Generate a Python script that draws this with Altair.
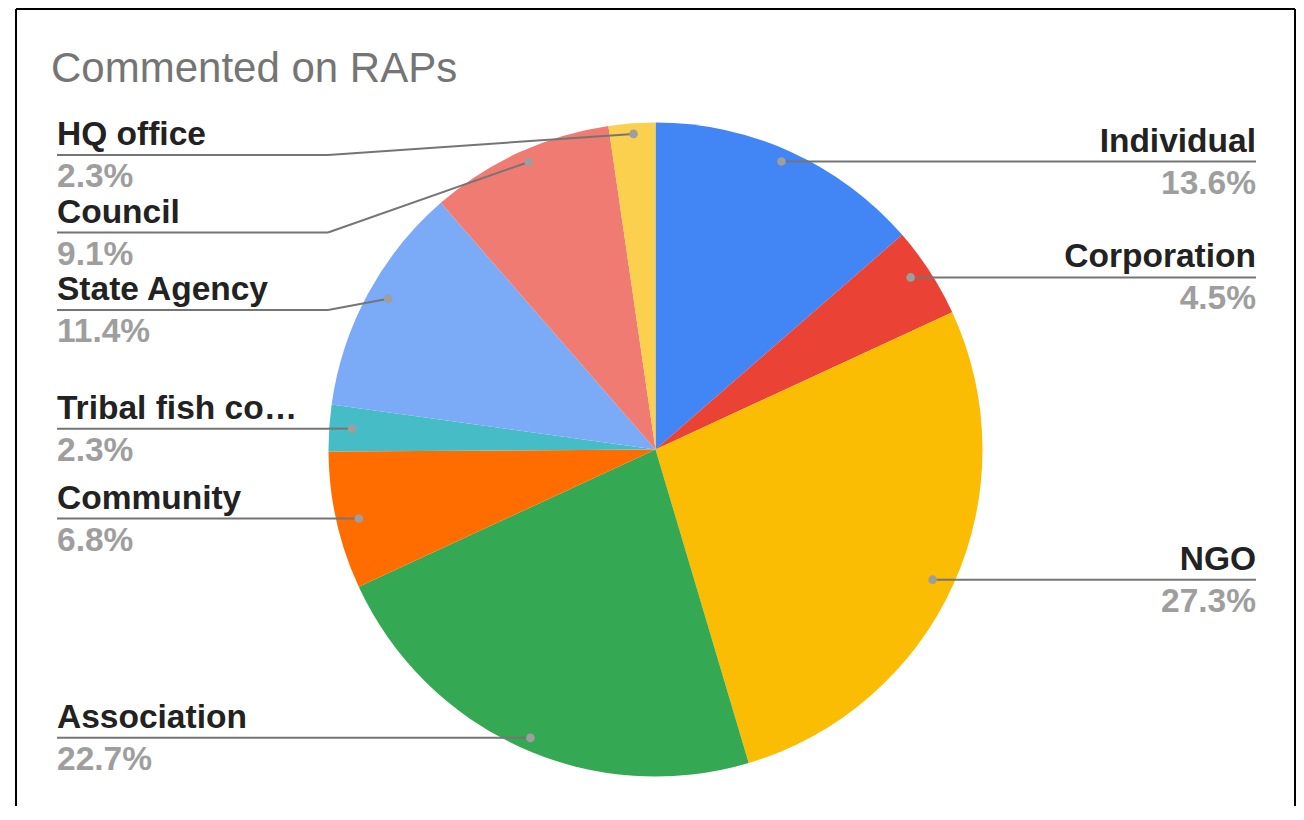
import altair as alt
import pandas as pd

# ---- data ----
categories = ["Individual", "Corporation", "NGO", "Association", "Community",
              "Tribal fish co…", "State Agency", "Council", "HQ office"]
shares = [13.6, 4.5, 27.3, 22.7, 6.8, 2.3, 11.4, 9.1, 2.3]
colors = ["#4285F4", "#EA4335", "#FBBC04", "#34A853", "#FF6D01",
          "#46BDC6", "#7BAAF7", "#F07B72", "#FCD04F"]
title_text = "Commented on RAPs"

df = pd.DataFrame({"category": categories, "value": shares,
                   "idx": list(range(len(categories)))})

# ---- layout constants (view coordinates) ----
W, H = 1281, 713
PAD = {"left": 7, "top": 85, "right": 0, "bottom": 0}
CX, CY = W / 2, H / 2
R = 327
RX, RY = 304, 316.4          # anchor ellipse for leader dots
LEFT_X, RIGHT_X = 42, 1241   # label edges
BEND_L, BEND_R = 313, 968    # leader-line bend points
YMIN, GAP = 62, 77.5
FONT = "Liberation Sans, Arial, sans-serif"
LINE_COLOR = "#757575"

base = (
    alt.Chart(df)
    .transform_window(cum="sum(value)", sort=[alt.SortField("idx")])
    .transform_calculate(mid="datum.cum - datum.value / 2")
    .transform_calculate(ang="datum.mid / 100 * 2 * PI")
    .transform_calculate(ax=f"{CX} + {RX} * sin(datum.ang)")
    .transform_calculate(ay=f"{CY} - {RY} * cos(datum.ang)")
    .transform_calculate(side="datum.mid < 50 ? 'R' : 'L'")
    .transform_calculate(pct="format(datum.value, '.1f') + '%'")
    .transform_window(rn="row_number()", groupby=["side"], sort=[alt.SortField("ay")])
    .transform_calculate(t=f"datum.ay - (datum.rn - 1) * {GAP}")
    .transform_window(cm="max(t)", groupby=["side"], sort=[alt.SortField("ay")],
                      frame=[None, 0])
    .transform_calculate(ly=f"(datum.rn - 1) * {GAP} + max({YMIN}, datum.cm)")
    .transform_calculate(lx=f"datum.side == 'R' ? {RIGHT_X} : {LEFT_X}")
    .transform_calculate(bx=f"datum.side == 'R' ? {BEND_R} : {BEND_L}")
)

X = lambda f: alt.X(f"{f}:Q", scale=None, axis=None)
Y = lambda f: alt.Y(f"{f}:Q", scale=None, axis=None)

arc = base.mark_arc(radius=R).encode(
    theta=alt.Theta("value:Q", stack=True),
    color=alt.Color("category:N", scale=alt.Scale(domain=categories, range=colors),
                    legend=None),
    order=alt.Order("idx:Q"),
)

hrule = base.mark_rule(color=LINE_COLOR, strokeWidth=2).encode(
    x=X("lx"), x2="bx:Q", y=Y("ly"))
diag = base.mark_rule(color=LINE_COLOR, strokeWidth=2).encode(
    x=X("bx"), y=Y("ly"), x2="ax:Q", y2="ay:Q")
dots = base.mark_circle(size=75, color="#9E9E9E", opacity=1).encode(
    x=X("ax"), y=Y("ay"))

def labels(side, align):
    b = base.transform_filter(f"datum.side == '{side}'")
    name = b.mark_text(align=align, baseline="alphabetic", dy=-10, font=FONT,
                       fontSize=33.5, fontWeight="bold", color="#222222").encode(
        x=X("lx"), y=Y("ly"), text="category:N")
    pct = b.mark_text(align=align, baseline="alphabetic", dy=32, font=FONT,
                      fontSize=33.5, fontWeight="bold", color="#9E9E9E").encode(
        x=X("lx"), y=Y("ly"), text="pct:N")
    return [name, pct]

one = pd.DataFrame({"t": [title_text]})
title = alt.Chart(one).mark_text(align="left", baseline="alphabetic", font=FONT,
                                 fontSize=42, color="#757575").encode(
    x=alt.value(36), y=alt.value(-11), text="t:N")

frame_l = alt.Chart(one).mark_rule(color="black", strokeWidth=2).encode(
    x=alt.value(1), y=alt.value(-84), y2=alt.value(H + 20))
frame_r = alt.Chart(one).mark_rule(color="black", strokeWidth=2).encode(
    x=alt.value(1280), y=alt.value(-84), y2=alt.value(H + 20))
frame_t = alt.Chart(one).mark_rule(color="black", strokeWidth=2).encode(
    x=alt.value(1), x2=alt.value(1280), y=alt.value(-84))

chart = alt.layer(
    frame_l, frame_r, frame_t, title, arc, hrule, diag, dots,
    *labels("L", "left"), *labels("R", "right")
).properties(
    width=W, height=H, padding=PAD,
    autosize=alt.AutoSizeParams(type="none"),
    background="white",
).configure_view(stroke=None)

chart.save("out.html", embed_options={"renderer": "svg", "actions": False})
